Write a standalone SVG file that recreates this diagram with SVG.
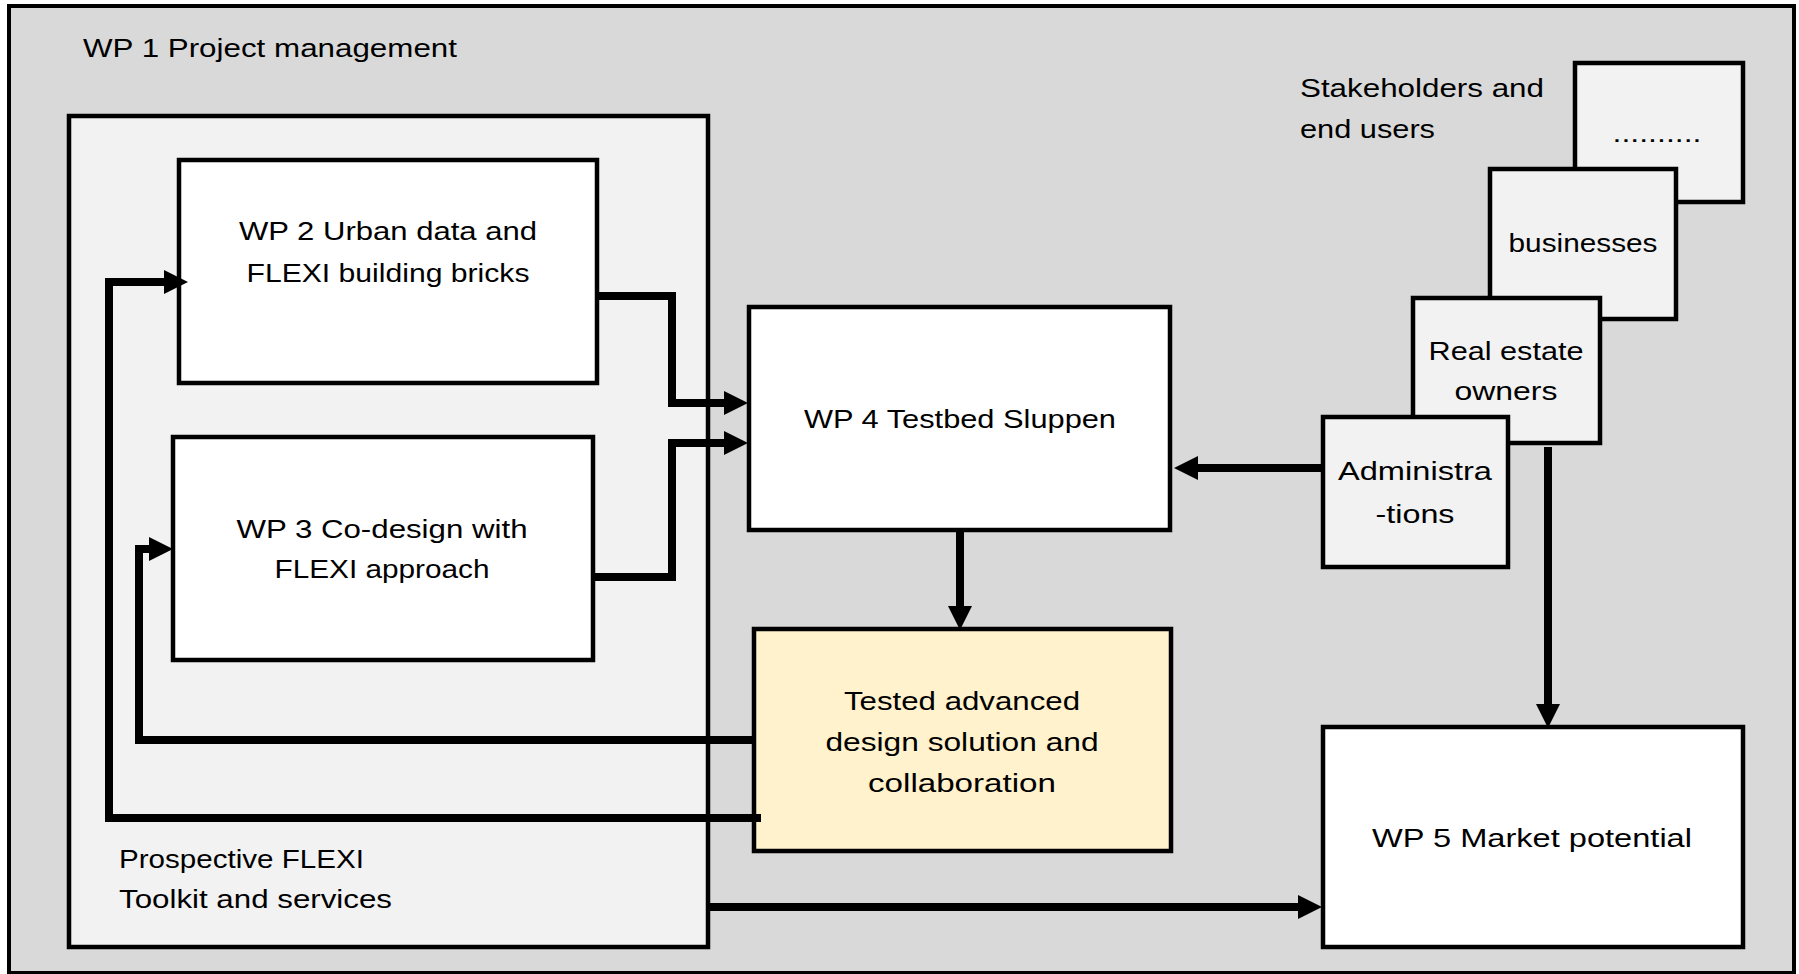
<svg xmlns="http://www.w3.org/2000/svg" width="1799" height="974" viewBox="0 0 1799 974">
<style>
.box{stroke:#000;stroke-width:4.5}
.white{fill:#fff}
.light{fill:#f2f2f2}
.yellow{fill:#fff2cc}
text{font-family:"Liberation Sans",Arial,sans-serif;font-size:26px;fill:#000}
.c{text-anchor:middle}
.con{fill:none;stroke:#000;stroke-width:8;stroke-linejoin:miter}
</style>
<defs>
<marker id="ah" viewBox="0 -12 24 24" refX="0" refY="0" markerWidth="24" markerHeight="24" markerUnits="userSpaceOnUse" orient="auto">
<path d="M0,-12 L24,0 L0,12 z" fill="#000"/>
</marker>
</defs>
<rect width="1799" height="974" fill="#fff"/>
<g id="wp1">
<rect x="9" y="6" width="1785" height="967" fill="#d9d9d9" stroke="#000" stroke-width="4"/>
<text x="83" y="57" textLength="374" lengthAdjust="spacingAndGlyphs">WP 1 Project management</text>
</g>
<g id="toolkit">
<rect x="69" y="116" width="639" height="831" class="box light"/>
<text x="119" y="868" textLength="245" lengthAdjust="spacingAndGlyphs">Prospective FLEXI</text>
<text x="119" y="908" textLength="273" lengthAdjust="spacingAndGlyphs">Toolkit and services</text>
</g>
<g id="wp2">
<rect x="179" y="160" width="418" height="223" class="box white"/>
<text class="c" x="388" y="240" textLength="298" lengthAdjust="spacingAndGlyphs">WP 2 Urban data and</text>
<text class="c" x="388" y="282" textLength="283" lengthAdjust="spacingAndGlyphs">FLEXI building bricks</text>
</g>
<g id="wp3">
<rect x="173" y="437" width="420" height="223" class="box white"/>
<text class="c" x="382" y="538" textLength="291" lengthAdjust="spacingAndGlyphs">WP 3 Co-design with</text>
<text class="c" x="382" y="578" textLength="215" lengthAdjust="spacingAndGlyphs">FLEXI approach</text>
</g>
<g id="wp4">
<rect x="749" y="307" width="421" height="223" class="box white"/>
<text class="c" x="960" y="428" textLength="312" lengthAdjust="spacingAndGlyphs">WP 4 Testbed Sluppen</text>
</g>
<g id="tested">
<rect x="754" y="629" width="417" height="222" class="box yellow"/>
<text class="c" x="962" y="710" textLength="236" lengthAdjust="spacingAndGlyphs">Tested advanced</text>
<text class="c" x="962" y="751" textLength="273" lengthAdjust="spacingAndGlyphs">design solution and</text>
<text class="c" x="962" y="792" textLength="188" lengthAdjust="spacingAndGlyphs">collaboration</text>
</g>
<g id="wp5">
<rect x="1323" y="727" width="420" height="220" class="box white"/>
<text class="c" x="1532" y="847" textLength="320" lengthAdjust="spacingAndGlyphs">WP 5 Market potential</text>
</g>
<g id="stakeholders">
<text x="1300" y="97" textLength="244" lengthAdjust="spacingAndGlyphs">Stakeholders and</text>
<text x="1300" y="138" textLength="135" lengthAdjust="spacingAndGlyphs">end users</text>
</g>
<g id="others">
<rect x="1575" y="63" width="168" height="139" class="box light"/>
<text class="c" x="1657" y="142" textLength="89" lengthAdjust="spacingAndGlyphs">..........</text>
</g>
<g id="businesses">
<rect x="1490" y="169" width="186" height="150" class="box light"/>
<text class="c" x="1583" y="252" textLength="149" lengthAdjust="spacingAndGlyphs">businesses</text>
</g>
<g id="realestate">
<rect x="1413" y="298" width="187" height="145" class="box light"/>
<text class="c" x="1506" y="360" textLength="155" lengthAdjust="spacingAndGlyphs">Real estate</text>
<text class="c" x="1506" y="400" textLength="103" lengthAdjust="spacingAndGlyphs">owners</text>
</g>
<g id="administrations">
<rect x="1323" y="417" width="185" height="150" class="box light"/>
<text class="c" x="1415" y="480" textLength="154" lengthAdjust="spacingAndGlyphs">Administra</text>
<text class="c" x="1415" y="523" textLength="79" lengthAdjust="spacingAndGlyphs">-tions</text>
</g>
<g id="connectors">
<path class="con" d="M597,296 H672 V403 H724" marker-end="url(#ah)"/>
<path class="con" d="M593,577 H672 V443 H724" marker-end="url(#ah)"/>
<path class="con" d="M1323,468 H1198" marker-end="url(#ah)"/>
<path class="con" d="M960,530 V606" marker-end="url(#ah)"/>
<path class="con" d="M1548,447 V704" marker-end="url(#ah)"/>
<path class="con" d="M708,907 H1298" marker-end="url(#ah)"/>
<path class="con" d="M761,818 H109 V282 H164" marker-end="url(#ah)"/>
<path class="con" d="M754,740 H139 V549 H149" marker-end="url(#ah)"/>
</g>
</svg>
